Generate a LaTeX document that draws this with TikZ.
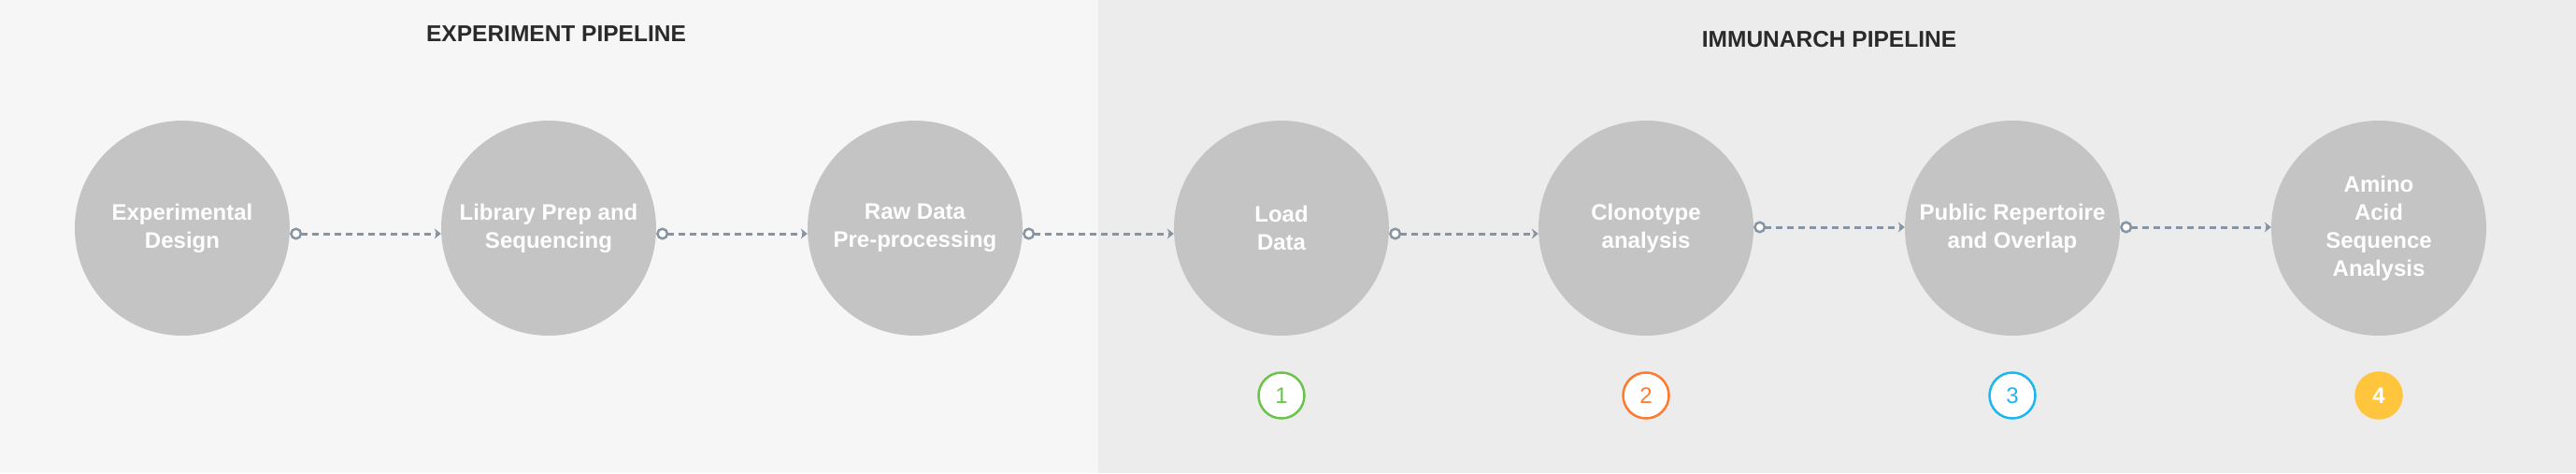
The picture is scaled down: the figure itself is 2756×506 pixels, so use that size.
\documentclass[tikz,border=0pt]{standalone}
\usepackage{fontspec}
\setmainfont{Liberation Sans}
\usetikzlibrary{arrows.meta}

\definecolor{leftbg}{HTML}{F6F6F6}
\definecolor{rightbg}{HTML}{ECECEC}
\definecolor{stagegray}{HTML}{C4C4C4}
\definecolor{linkgray}{HTML}{8795A2}
\definecolor{titleblack}{HTML}{2A2A2A}
\definecolor{stepgreen}{HTML}{6CC24A}
\definecolor{steporange}{HTML}{FF7A2F}
\definecolor{stepblue}{HTML}{1EB6F0}
\definecolor{stepyellow}{HTML}{FFC53D}

\begin{document}
\begin{tikzpicture}[x=1pt, y=-1pt,
    stage/.style={circle, fill=stagegray, minimum size=230pt, inner sep=0pt,
        text=white, align=center, font=\bfseries\fontsize{24}{30}\selectfont},
    flow/.style={draw=linkgray, line width=3pt, dash pattern=on 7pt off 5pt,
        {Circle[fill=white, length=13pt, width=13pt, line width=2.5pt]}-{Stealth[length=7pt, width=11pt]}},
    badge/.style={circle, minimum size=49pt, inner sep=0pt, line width=2.5pt,
        fill=white, font=\fontsize{24}{24}\selectfont},
    heading/.style={text=titleblack, font=\bfseries\fontsize{24.5}{24.5}\selectfont}]
    \useasboundingbox (0,0) rectangle (2756,506);

    % Backgrounds of the two pipelines
    \fill[leftbg] (0,0) rectangle (1175,506);
    \fill[rightbg] (1175,0) rectangle (2756,506);

    % Titles
    \node[heading] (exptitle) at (595,36) {EXPERIMENT PIPELINE};
    \node[heading] (immtitle) at (1957,42) {IMMUNARCH PIPELINE};

    % Stages
    \node[stage] (design) at (195,244) {Experimental\\Design};
    \node[stage] (libprep) at (587,244) {Library Prep and\\Sequencing};
    \node[stage] (rawdata) at (979,244) {Raw Data\\Pre-processing};
    \node[stage] (load) at (1371,244) {Load\\Data};
    \node[stage] (clonotype) at (1761,244) {Clonotype\\analysis};
    \node[stage] (public) at (2153,244) {Public Repertoire\\and Overlap};
    \node[stage] (amino) at (2545,244) {Amino\\Acid\\Sequence\\Analysis};

    % Links between stages
    \draw[flow] ([yshift=-6pt]design.east) -- ([yshift=-6pt]libprep.west);
    \draw[flow] ([yshift=-6pt]libprep.east) -- ([yshift=-6pt]rawdata.west);
    \draw[flow] ([yshift=-6pt]rawdata.east) -- ([yshift=-6pt]load.west);
    \draw[flow] ([yshift=-6pt]load.east) -- ([yshift=-6pt]clonotype.west);
    \draw[flow] ([yshift=1pt]clonotype.east) -- ([yshift=1pt]public.west);
    \draw[flow] ([yshift=1pt]public.east) -- ([yshift=1pt]amino.west);

    % Step numbers
    \node[badge, draw=stepgreen, text=stepgreen] (one) at (1371,423) {1};
    \node[badge, draw=steporange, text=steporange] (two) at (1761,423) {2};
    \node[badge, draw=stepblue, text=stepblue] (three) at (2153,423) {3};
    \node[badge, draw=stepyellow, fill=stepyellow, text=white, font=\bfseries\fontsize{24}{24}\selectfont] (four) at (2545,423) {4};
\end{tikzpicture}
\end{document}
